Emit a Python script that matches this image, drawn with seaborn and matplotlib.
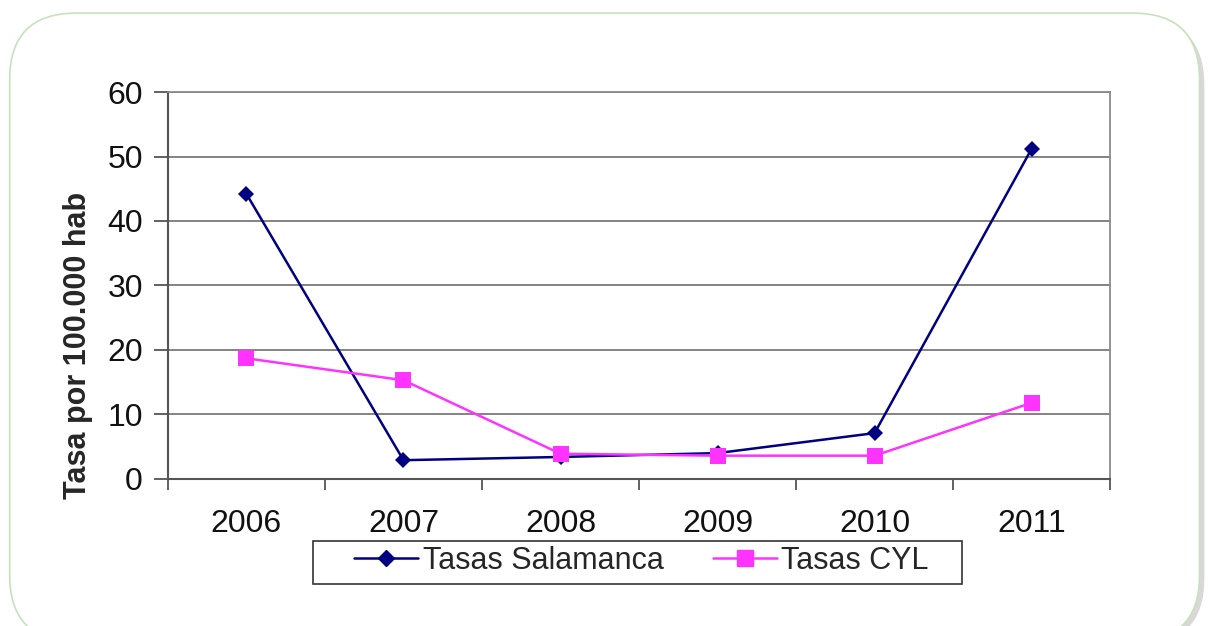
import matplotlib
matplotlib.use("Agg")
import matplotlib.pyplot as plt
from matplotlib.patches import FancyBboxPatch, Rectangle
from matplotlib.lines import Line2D
import seaborn as sns
import pandas as pd
import numpy as np

years = ["2006", "2007", "2008", "2009", "2010", "2011"]
salamanca = [44.2, 2.9, 3.4, 4.0, 7.1, 51.2]
cyl = [18.7, 15.3, 3.9, 3.6, 3.6, 11.8]
series_names = ["Tasas Salamanca", "Tasas CYL"]
y_ticks = [0, 10, 20, 30, 40, 50, 60]

sns.set_theme(style="white")
plt.rcParams['font.family'] = ['Liberation Sans', 'DejaVu Sans']

df = pd.DataFrame({
    "pos": list(range(len(years))) * 2,
    "valor": salamanca + cyl,
    "serie": [series_names[0]] * len(years) + [series_names[1]] * len(years),
})

W, H = 1208, 626
fig = plt.figure(figsize=(W / 100, H / 100), dpi=100)
fig.patch.set_facecolor("white")

# rounded frame with shadow
shadow = FancyBboxPatch((0.011, -0.03), 0.986, 1.0,
                        boxstyle="round,pad=0,rounding_size=0.055",
                        transform=fig.transFigure, facecolor="#d8d8d8",
                        edgecolor="none", zorder=0, mutation_aspect=W / H)
fig.patches.append(shadow)
frame = FancyBboxPatch((0.008, -0.025), 0.985, 1.004,
                       boxstyle="round,pad=0,rounding_size=0.055",
                       transform=fig.transFigure, facecolor="white",
                       edgecolor="#c6e2bc", linewidth=1.2, zorder=1,
                       mutation_aspect=W / H)
fig.patches.append(frame)

ax = fig.add_axes([0.139, 0.235, 0.780, 0.618])
ax.set_zorder(2)
ax.patch.set_alpha(0)

palette = {series_names[0]: "#000080", series_names[1]: "#FF33FF"}
markers = {series_names[0]: "D", series_names[1]: "s"}
sns.lineplot(data=df, x="pos", y="valor", hue="serie", style="serie",
             palette=palette, markers=markers, dashes=False, ax=ax,
             linewidth=1.8, markeredgewidth=0, legend=False)
for line, ms in zip(ax.lines, [8, 11]):
    line.set_markersize(ms)
    line.set_markeredgecolor(line.get_color())

ax.set_xlim(-0.5, len(years) - 0.5)
ax.set_ylim(0, 60)
ax.set_yticks(y_ticks)
ax.set_yticklabels([str(t) for t in y_ticks], fontsize=23, color="#111111")
ax.yaxis.grid(True, color="#7a7a7a", linewidth=1.3)
ax.set_axisbelow(True)

ax.set_xticks(range(len(years)))
ax.set_xticklabels(years, fontsize=23, color="#111111")
ax.set_xticks(np.arange(-0.5, len(years)), minor=True)
ax.tick_params(axis="x", which="major", length=0, pad=22)
ax.tick_params(axis="x", which="minor", length=8, width=1.3, color="#555555", direction="out", bottom=True)
ax.tick_params(axis="y", which="major", length=10, width=1.3, color="#555555", direction="out", left=True, pad=8)

for s in ["top", "right"]:
    ax.spines[s].set_visible(True)
    ax.spines[s].set_color("#8a8a8a")
    ax.spines[s].set_linewidth(1.3)
for s in ["left", "bottom"]:
    ax.spines[s].set_color("#555555")
    ax.spines[s].set_linewidth(1.5)

ax.set_xlabel("")
ax.set_ylabel("Tasa por 100.000 hab", fontsize=22, fontweight="bold")
ax.yaxis.set_label_coords(-0.079, 0.346)

# legend box
fig.patches.append(Rectangle((313 / W, 1 - 584 / H), (962 - 313) / W, 43 / H,
                             transform=fig.transFigure, facecolor="white",
                             edgecolor="#333333", linewidth=1.2, zorder=3))
handles = [Line2D([], [], color="#000080", marker="D", markersize=8, linewidth=1.8),
           Line2D([], [], color="#FF33FF", marker="s", markersize=11, linewidth=1.8)]
leg = fig.legend(handles, series_names, loc="center", bbox_to_anchor=(0.531, 0.104),
                 ncol=2, fontsize=22, frameon=False,
                 handlelength=2.1, columnspacing=1.6, handletextpad=0.15,
                 borderpad=0.3, borderaxespad=0)
leg.set_zorder(4)

fig.savefig("out.png", dpi=100, facecolor="white")
